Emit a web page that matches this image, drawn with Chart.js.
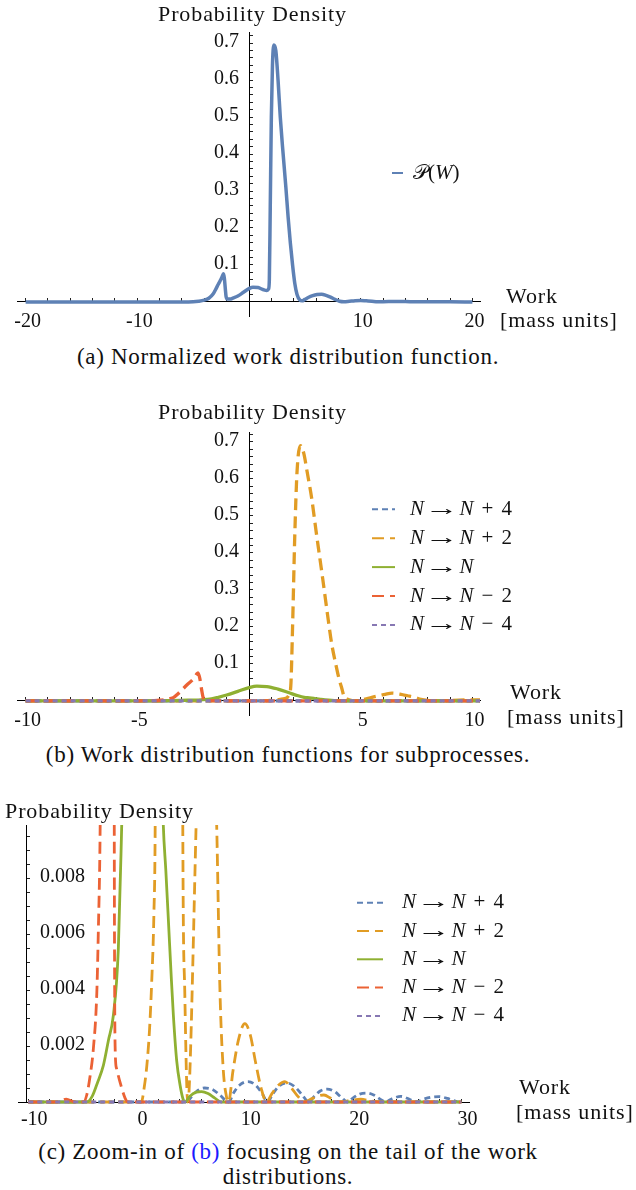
<!DOCTYPE html>
<html>
<head>
<meta charset="utf-8">
<script src="https://cdn.jsdelivr.net/npm/chart.js@4.4.1/dist/chart.umd.min.js"></script>
<style>
  body { margin: 0; background: #fff; }
  #page { position: relative; width: 636px; height: 1190px; overflow: hidden;
          font-family: "Liberation Serif", "DejaVu Serif", serif; color: #111; }
  canvas { position: absolute; left: 0; }
  .t { position: absolute; white-space: nowrap; line-height: 1; font-size: 22px; letter-spacing: 0.9px; }
  .cap { position: absolute; left: 0; width: 576px; text-align: center; font-size: 23px; line-height: 25px; letter-spacing: 0.7px; }
  .cap a { color: #1a1aff; text-decoration: none; }
</style>
</head>
<body>
<div id="page">
  <canvas id="chartA" width="636" height="340" style="top:0"></canvas>
  <canvas id="chartB" width="636" height="350" style="top:380px"></canvas>
  <canvas id="chartC" width="636" height="330" style="top:800px"></canvas>

  <div class="t" style="left:158px;top:3px">Probability Density</div>
  <div class="t" style="left:506px;top:285px">Work</div>
  <div class="t" style="left:500px;top:309px">[mass units]</div>
  <div class="cap" style="top:344px">(a) Normalized work distribution function.</div>

  <div class="t" style="left:158px;top:401px">Probability Density</div>
  <div class="t" style="left:510px;top:681px">Work</div>
  <div class="t" style="left:507px;top:706px">[mass units]</div>
  <div class="cap" style="top:742px">(b) Work distribution functions for subprocesses.</div>

  <div class="t" style="left:5px;top:800px">Probability Density</div>
  <div class="t" style="left:519px;top:1076px">Work</div>
  <div class="t" style="left:516px;top:1101px">[mass units]</div>
  <div class="cap" style="top:1139px">(c) Zoom-in of <a>(b)</a> focusing on the tail of the work<br>distributions.</div>
</div>

<script>
// work values (mass units) and probability densities
const wTotal = [-20, -6, -5, -4.5, -4, -3.6, -3.2, -3.0, -2.75, -2.5, -2.35, -2.28, -2.2, -2.12, -2.05, -1.95, -1.7, -1.4, -1.0, -0.5, 0, 0.35, 0.8, 1.3, 1.6, 1.75, 1.82, 1.9, 2.0, 2.1, 2.22, 2.4, 2.6, 2.8, 3.0, 3.3, 3.5, 3.7, 3.9, 4.1, 4.3, 4.55, 4.75, 5.0, 5.3, 5.7, 6.1, 6.5, 6.9, 7.3, 7.7, 8.1, 8.5, 9.0, 9.5, 10.0, 10.5, 11.0, 11.5, 12, 13, 14, 15, 16, 17, 18, 20];
const pTotal = [0, 0, 0.0005, 0.002, 0.005, 0.01, 0.022, 0.033, 0.048, 0.062, 0.072, 0.076, 0.062, 0.035, 0.014, 0.008, 0.008, 0.011, 0.016, 0.026, 0.036, 0.04, 0.039, 0.033, 0.031, 0.035, 0.06, 0.25, 0.5, 0.64, 0.695, 0.68, 0.6, 0.5, 0.42, 0.31, 0.23, 0.16, 0.1, 0.05, 0.02, 0.005, 0.003, 0.007, 0.012, 0.017, 0.02, 0.021, 0.018, 0.013, 0.007, 0.002, 0.0005, 0.002, 0.0035, 0.004, 0.003, 0.002, 0.0008, 0.0008, 0.0015, 0.0012, 0.0004, 0.0006, 0.0007, 0.0003, 0];

const wPlus4 = [-10, 4.6, 5.1, 5.6, 6.3, 7.0, 7.7, 8.5, 9.0, 9.5, 10.3, 11.0, 11.6, 12.1, 12.6, 13.2, 13.9, 14.6, 15.3, 15.9, 16.4, 17.0, 17.6, 18.3, 18.9, 19.5, 20.0, 20.6, 21.2, 21.9, 22.5, 23.0, 23.5, 24.4, 25.2, 25.8, 26.5, 27.2, 27.9, 28.7, 29.3, 29.8, 30];
const pPlus4 = [0, 0, 0.0002, 0.0004, 0.0005, 0.00045, 0.00025, 0, 0.00035, 0.0006, 0.00073, 0.0006, 0.0003, 0, 0.0003, 0.00058, 0.00068, 0.00055, 0.00025, 0, 0.0002, 0.0004, 0.00046, 0.00037, 0.00017, 0, 0.00015, 0.00028, 0.00032, 0.00025, 0.0001, 0, 0.0001, 0.0002, 0.0001, 0, 0.0001, 0.00017, 0.00019, 0.00013, 0.00005, 0, 0.00001];

const wPlus2 = [-10, 0.45, 0.7, 0.95, 1.2, 1.4, 1.6, 1.72, 1.8, 1.87, 1.95, 2.05, 2.15, 2.3, 2.45, 2.6, 2.8, 3.0, 3.3, 3.5, 3.7, 3.9, 4.05, 4.15, 4.27, 4.45, 4.62, 4.72, 4.85, 5.0, 5.2, 5.5, 5.8, 6.1, 6.4, 6.8, 7.1, 7.4, 7.7, 8.0, 8.3, 8.5, 8.9, 9.4, 10.0, 10.5, 11.0, 11.5, 12.0, 12.5, 13.1, 13.7, 14.3, 14.9, 15.5, 16.2, 16.8, 17.3, 18.0, 18.8, 19.8, 20.7, 21.6, 22.5, 30];
const pPlus2 = [0, 0, 0.0005, 0.0013, 0.0026, 0.0043, 0.0067, 0.0099, 0.018, 0.04, 0.2, 0.45, 0.62, 0.69, 0.67, 0.62, 0.55, 0.46, 0.33, 0.24, 0.155, 0.095, 0.055, 0.035, 0.0099, 0.004, 0.0008, 0, 0.0004, 0.002, 0.005, 0.0099, 0.014, 0.018, 0.021, 0.018, 0.014, 0.0099, 0.004, 0.0012, 0.0002, 0, 0.0011, 0.0022, 0.0028, 0.0024, 0.0014, 0.0005, 0, 0.0003, 0.0006, 0.00073, 0.0005, 0.0002, 0, 0.00012, 0.00022, 0.00025, 0.00012, 0, 0.00006, 0.0001, 0.00004, 0, 0];

const wZero = [-10, -4.6, -4.1, -3.6, -3.07, -2.6, -2.14, -1.68, -1.37, -1.0, -0.5, 0.0, 0.35, 0.8, 1.3, 1.8, 2.2, 2.47, 2.7, 2.94, 3.2, 3.4, 3.7, 4.02, 4.3, 4.48, 4.9, 5.5, 6.0, 6.6, 7.2, 7.8, 30];
const pZero = [0, 0, 0.0002, 0.0007, 0.0013, 0.0022, 0.0031, 0.0055, 0.0099, 0.016, 0.026, 0.036, 0.04, 0.039, 0.032, 0.022, 0.014, 0.0099, 0.0083, 0.0065, 0.0045, 0.0031, 0.0015, 0.0006, 0.0001, 0, 0.0002, 0.00035, 0.00037, 0.0003, 0.00015, 0, 0];

const wMinus2 = [-10, -7.3, -6.5, -5.7, -4.9, -4.6, -4.3, -3.99, -3.67, -3.53, -3.37, -3.2, -3.0, -2.75, -2.5, -2.35, -2.28, -2.2, -2.12, -2.05, -1.98, -1.85, -1.52, -1.06, -0.8, 30];
const pMinus2 = [0, 0, 0.0001, 0, 0, 0.00025, 0.0009, 0.0019, 0.0039, 0.0061, 0.0095, 0.018, 0.03, 0.045, 0.059, 0.072, 0.076, 0.06, 0.03, 0.008, 0.002, 0.0012, 0.0007, 0.00014, 0, 0];

const wMinus4 = [-10, 30];
const pMinus4 = [0, 0];

const seriesLabels = ['N → N + 4', 'N → N + 2', 'N → N', 'N → N − 2', 'N → N − 4'];

// tick labels
const aXLabels = ['-20', '-10', '10', '20'];
const aYLabels = ['0.1', '0.2', '0.3', '0.4', '0.5', '0.6', '0.7'];
const bXLabels = ['-10', '-5', '5', '10'];
const cXLabels = ['-10', '0', '10', '20', '30'];
const cYLabels = ['0.002', '0.004', '0.006', '0.008'];

const FONT = '"Liberation Serif", "DejaVu Serif", serif';
const COLORS = ['#5e81b5', '#e19c24', '#8fb032', '#eb6235', '#8778b3'];
const DASHES = [[6, 4], [12, 6], [], [12, 6], [5, 4]];

function steps(a, b, d) {
  const out = [];
  for (let v = a; v <= b + d / 2; v += d) out.push(Math.round(v * 1e6) / 1e6);
  return out;
}

function pts(xs, ys) {
  return xs.map((x, i) => ({ x: x, y: ys[i] }));
}

function drawMath(ctx, text, x, y, size) {
  ctx.textBaseline = 'middle';
  ctx.fillStyle = '#111';
  const chars = Array.from(text);
  chars.forEach((ch, i) => {
    if (ch === ' ') {
      // the arrow glyph carries its own side bearings
      const nearArrow = chars[i - 1] === '→' || chars[i + 1] === '→';
      x += nearArrow ? 1 : size * 0.38;
      return;
    }
    ctx.font = (/[A-Z]/.test(ch) ? 'italic ' : '') + size + 'px ' + FONT;
    const w = ctx.measureText(ch).width;
    if (ch === '→') {
      ctx.save();
      ctx.translate(x, y);
      ctx.scale(1.6, 1);
      ctx.fillText(ch, 0, 0);
      ctx.restore();
      x += w * 1.6;
    } else {
      ctx.fillText(ch, x, y);
      x += w;
    }
  });
}

const mathLegend = {
  id: 'mathLegend',
  afterDraw(chart, args, o) {
    const ctx = chart.ctx;
    chart.data.datasets.forEach((ds, i) => {
      const y = o.y + i * o.gap;
      ctx.save();
      ctx.strokeStyle = ds.borderColor;
      ctx.lineWidth = 2;
      ctx.setLineDash(ds.borderDash || []);
      ctx.beginPath();
      ctx.moveTo(o.x, y);
      ctx.lineTo(o.x + o.len, y);
      ctx.stroke();
      ctx.setLineDash([]);
      drawMath(ctx, ds.label, o.textX, y, 21);
      ctx.restore();
    });
  }
};

// y tick labels placed next to the axis, wherever it crosses
const yLabels = {
  id: 'yLabels',
  afterDraw(chart, args, o) {
    const ctx = chart.ctx;
    const x0 = chart.scales.x.getPixelForValue(o.at) + o.dx;
    ctx.save();
    ctx.font = '20px ' + FONT;
    ctx.fillStyle = '#111';
    ctx.textAlign = o.align;
    ctx.textBaseline = 'middle';
    o.labels.forEach(s => ctx.fillText(s, x0, chart.scales.y.getPixelForValue(+s) - 1));
    ctx.restore();
  }
};

function axis(min, max, pos, tickVals, labels, pad, shift) {
  return {
    type: 'linear', min: min, max: max, position: pos,
    afterBuildTicks: s => { s.ticks = tickVals.map(v => ({ value: v })); },
    ticks: {
      display: labels !== null, autoSkip: false, maxRotation: 0, padding: pad, color: '#111',
      labelOffset: shift || 0,
      font: { family: FONT, size: 20 },
      callback: v => (labels || []).find(s => Math.abs(+s - v) < 1e-9) || ''
    },
    grid: { drawOnChartArea: false, drawTicks: true, tickLength: -4, color: '#222' },
    border: { display: true, color: '#000', width: 1 }
  };
}

function subSets(width) {
  const ws = [wPlus4, wPlus2, wZero, wMinus2, wMinus4];
  const ps = [pPlus4, pPlus2, pZero, pMinus2, pMinus4];
  return seriesLabels.map((lab, i) => ({
    label: lab, data: pts(ws[i], ps[i]),
    borderColor: COLORS[i], borderDash: DASHES[i], borderWidth: width,
    pointRadius: 0, fill: false, cubicInterpolationMode: 'monotone',
    order: 5 - i, clip: { left: 0, top: 0, right: 0, bottom: 6 }
  }));
}

function baseOptions(padding, scales, legend, ylab) {
  return {
    responsive: false, animation: false, events: [],
    layout: { padding: padding },
    scales: scales,
    plugins: { legend: { display: false }, tooltip: { enabled: false }, mathLegend: legend, yLabels: ylab }
  };
}

new Chart(document.getElementById('chartA'), {
  type: 'line',
  data: { datasets: [{
    label: '𝒫(W)', data: pts(wTotal, pTotal), borderColor: COLORS[0], borderWidth: 3.5,
    pointRadius: 0, fill: false, cubicInterpolationMode: 'monotone'
  }] },
  options: baseOptions({ left: 15.5, right: 156, top: 32, bottom: 24 }, {
    x: axis(-20.76, 20.68, { y: 0 }, steps(-20, 20, 2), aXLabels, 12, 2),
    y: axis(-0.038, 0.73, { x: 0 }, steps(0, 0.72, 0.02), null, 0)
  }, { x: 392, len: 11, textX: 413, y: 173, gap: 0 },
     { at: 0, dx: -10, align: 'right', labels: aYLabels }),
  plugins: [mathLegend, yLabels]
});

new Chart(document.getElementById('chartB'), {
  type: 'line',
  data: { datasets: subSets(3.3) },
  options: baseOptions({ left: 15.5, right: 156, top: 52, bottom: 15 }, {
    x: axis(-10.38, 10.34, { y: 0 }, steps(-10, 10, 1), bXLabels, 12, 2),
    y: axis(-0.038, 0.727, { x: 0 }, steps(0, 0.72, 0.02), null, 0)
  }, { x: 372, len: 23, textX: 410, y: 129.3, gap: 28.9 },
     { at: 0, dx: -10, align: 'right', labels: aYLabels }),
  plugins: [mathLegend, yLabels]
});

new Chart(document.getElementById('chartC'), {
  type: 'line',
  data: { datasets: subSets(2.8) },
  options: baseOptions({ left: 18.3, right: 167, top: 25, bottom: 28 }, {
    x: axis(-10.92, 30.7, { y: 0 }, steps(-10, 30, 2), cXLabels, 10, 6),
    y: axis(0, 0.0099, { x: -10.12 }, steps(0.0005, 0.0095, 0.0005), null, 0)
  }, { x: 357, len: 26, textX: 402, y: 102.7, gap: 28.3 },
     { at: -10.12, dx: 13, align: 'left', labels: cYLabels }),
  plugins: [mathLegend, yLabels]
});
</script>
</body>
</html>
